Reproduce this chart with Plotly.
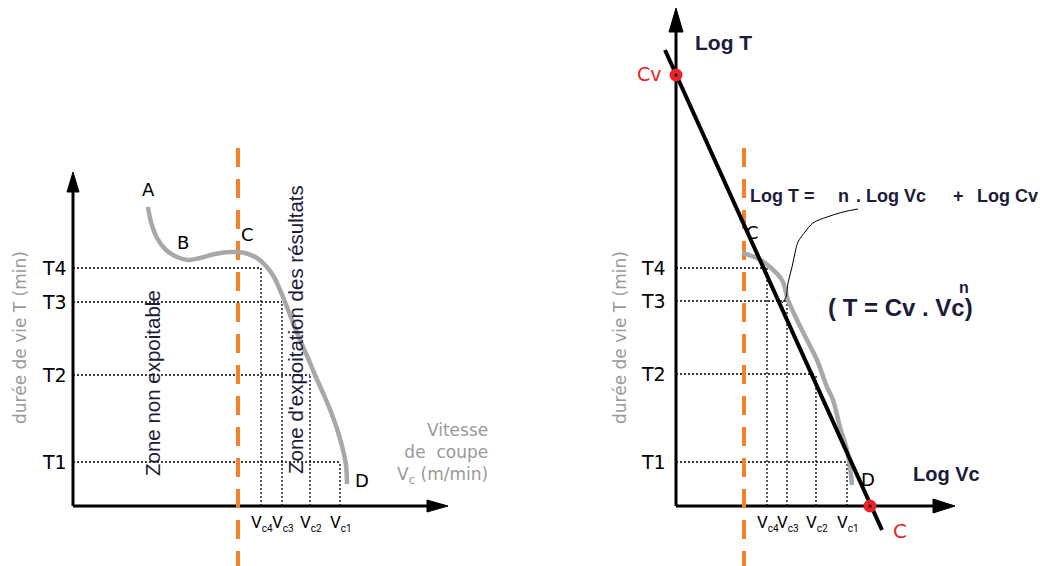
import plotly.graph_objects as go

# ---------------- data (panel units; origin = axis corner) ----------------
T_LABELS = ["T1", "T2", "T3", "T4"]
VC_SUBS = ["c1", "c2", "c3", "c4"]

# left panel : T = f(Vc)
left_T = [44, 131, 204, 238]
left_Vc = [267, 237, 209, 188]
left_curve_x = [75, 78, 84, 93, 104, 115, 127, 142, 157, 172, 184, 193, 201, 207,
                212, 219, 227, 235, 242, 250, 258, 265, 270, 273, 274]
left_curve_y = [299, 284, 268, 256, 249, 246, 248, 252, 254, 253, 248, 240, 229, 216,
                204, 186, 166, 148, 131, 113, 94, 74, 56, 41, 22]
left_zone_limit = 165

# right panel : Log T = f(Log Vc)
right_T = [44, 132, 205, 238]
right_Vc = [171, 140, 111, 91]
right_curve_x = [66, 81, 94, 106, 112, 121, 131, 141, 151, 157, 164, 171, 174, 176]
right_curve_y = [253, 248, 239, 226, 206, 186, 166, 146, 119, 106, 79, 56, 39, 21]
right_zone_limit = 68
taylor_x = [-11, 206]
taylor_y = [456, -24]
Cv_point = [0, 431]
C_point = [194, 0]
leader_x = [182, 167, 151, 137, 129, 122, 119, 116, 112, 110, 106]
leader_y = [297, 294, 289, 283, 274, 264, 253, 239, 223, 209, 203]

# ---------------- page geometry ----------------
PAGE_W, PAGE_H = 1049, 566
BODY = 8                     # default body margin of the html page
FIG_W, FIG_H = PAGE_W - BODY, PAGE_H - BODY
SPLIT = 524.5 - BODY         # x pixel where the two panels meet (figure px)
L_ORIGIN = (73 - BODY, 506 - BODY)
R_ORIGIN = (676 - BODY, 506 - BODY)

# ---------------- styles ----------------
SANS = "DejaVu Sans, sans-serif"
NARROW = "Roboto, DejaVu Sans, sans-serif"
ARIAL = "Liberation Sans, Arial, sans-serif"
ORANGE = "#F5822A"
GRAY = "#A8A8A8"
NAVY = "#1b1b3a"
RED = "#E8232A"
LABEL_GRAY = "#9a9a9a"

fig = go.Figure()
annotations = []
shapes = []


def ax(panel):
    return ("x", "y") if panel == 0 else ("x2", "y2")


def line(panel, xs, ys, color="black", width=1, dash="solid", shape="linear"):
    xa, ya = ax(panel)
    fig.add_trace(go.Scatter(x=xs, y=ys, mode="lines", xaxis=xa, yaxis=ya,
                             line=dict(color=color, width=width, dash=dash, shape=shape),
                             hoverinfo="skip", showlegend=False))


def ann(panel, x, y, text, size=16, color="black", family=SANS, xanchor="center",
        yanchor="middle", angle=0, align="center"):
    xa, ya = ax(panel)
    annotations.append(dict(x=x, y=y, xref=xa, yref=ya, text=text, showarrow=False,
                            xanchor=xanchor, yanchor=yanchor, textangle=angle, align=align,
                            borderpad=0,
                            font=dict(size=size, color=color, family=family)))


def tri(panel, pts):
    xa, ya = ax(panel)
    path = "M {} {} L {} {} L {} {} Z".format(*[v for p in pts for v in p])
    shapes.append(dict(type="path", path=path, xref=xa, yref=ya,
                       fillcolor="black", line=dict(color="black", width=1)))


def panel_frame(panel, ytop, ytip, xend, xtip, hw):
    line(panel, [0, 0], [0, ytop], width=3)
    line(panel, [0, xend], [0, 0], width=3)
    tri(panel, [(-hw, ytop), (hw, ytop), (0, ytip)])
    tri(panel, [(xend, -hw), (xend, hw), (xtip, 0)])


def grid(panel, T, Vc):
    for t, v in zip(T, Vc):
        line(panel, [0, v], [t, t], width=1.3, dash="2px,2px")
        line(panel, [v, v], [0, t], width=1.3, dash="2px,2px")


def vc_label(sub):
    return 'V<sub><span style="font-size:10px">%s</span></sub>' % sub


# ---------------- left panel ----------------
grid(0, left_T, left_Vc)
panel_frame(0, 314, 334, 354, 375, 6)
line(0, [left_zone_limit, left_zone_limit], [358, -60], color=ORANGE, width=4, dash="19px,12px")
line(0, left_curve_x, left_curve_y, color=GRAY, width=4.5, shape="spline")

for lab, t in zip(T_LABELS, left_T):
    ann(0, -5, t, lab, size=19, xanchor="right")
for sub, v in zip(VC_SUBS, left_Vc):
    ann(0, v + 1, -17, vc_label(sub), size=17, family=NARROW)
ann(0, 75, 317, "A", size=18)
ann(0, 110, 264, "B", size=18)
ann(0, 174, 272, "C", size=18)
ann(0, 289, 26, "D", size=18)
ann(0, -53, 168, "durée de vie T (min)", size=17, color=LABEL_GRAY, angle=-90)
ann(0, 416, 53, "Vitesse<br>de  coupe<br>V<sub>c</sub> (m/min)", size=17,
    color=LABEL_GRAY, xanchor="right", align="right")
ann(0, 79, 123, "Zone non expoitable", size=20.5, color=NAVY, family=ARIAL, angle=-90)
ann(0, 222, 176, "Zone d'expoitation des résultats", size=20.5, color=NAVY,
    family=ARIAL, angle=-90)

# ---------------- right panel ----------------
grid(1, right_T, right_Vc)
panel_frame(1, 474, 498, 257, 279, 7)
line(1, [right_zone_limit, right_zone_limit], [358, -60], color=ORANGE, width=4, dash="19px,12px")
line(1, right_curve_x, right_curve_y, color=GRAY, width=4.5, shape="spline")
line(1, taylor_x, taylor_y, color="black", width=4)
line(1, leader_x, leader_y, color="black", width=1, shape="spline")
fig.add_trace(go.Scatter(x=[Cv_point[0], C_point[0]], y=[Cv_point[1], C_point[1]],
                         mode="markers", xaxis="x2", yaxis="y2", hoverinfo="skip",
                         marker=dict(size=13, color=RED, line=dict(width=0)), showlegend=False))
fig.add_trace(go.Scatter(x=[Cv_point[0], C_point[0]], y=[Cv_point[1], C_point[1]],
                         mode="markers", xaxis="x2", yaxis="y2", hoverinfo="skip",
                         marker=dict(size=3, color="black"), showlegend=False))

for lab, t in zip(T_LABELS, right_T):
    ann(1, -9, t, lab, size=19, xanchor="right")
for sub, v in zip(VC_SUBS, right_Vc):
    ann(1, v + 1, -17, vc_label(sub), size=17, family=NARROW)
ann(1, 76, 274, "C", size=18)
ann(1, 192, 27, "D", size=18)
ann(1, -13, 432, "Cv", size=19, color=RED, xanchor="right")
ann(1, 224, -25, "C", size=20, color=RED)
ann(1, -56, 168, "durée de vie T (min)", size=17, color=LABEL_GRAY, angle=-90)
ann(1, 18, 464, "<b>Log T</b>", size=21, color=NAVY, family=ARIAL, xanchor="left")
ann(1, 236, 32, "<b>Log Vc</b>", size=20, color=NAVY, family=ARIAL, xanchor="left")
# equation pieces
ann(1, 73, 310, "<b>Log T =</b>", size=18, color=NAVY, family=ARIAL, xanchor="left")
ann(1, 167, 310, "<b>n</b>", size=18, color=NAVY, family=ARIAL)
ann(1, 179, 310, "<b>. Log Vc</b>", size=18, color=NAVY, family=ARIAL, xanchor="left")
ann(1, 282, 310, "<b>+</b>", size=18, color=NAVY, family=ARIAL)
ann(1, 300, 310, "<b>Log Cv</b>", size=18, color=NAVY, family=ARIAL, xanchor="left")
ann(1, 151, 199, "<b>( T = Cv . Vc)</b>", size=24, color=NAVY, family=ARIAL, xanchor="left")
ann(1, 288, 219, "<b>n</b>", size=16, color=NAVY, family=ARIAL)

fig.update_layout(
    width=FIG_W, height=FIG_H, autosize=False,
    margin=dict(l=0, r=0, t=0, b=0, pad=0),
    paper_bgcolor="white", plot_bgcolor="white", showlegend=False,
    xaxis=dict(domain=[0, SPLIT / FIG_W], range=[-L_ORIGIN[0], SPLIT - L_ORIGIN[0]],
               visible=False, fixedrange=True),
    yaxis=dict(domain=[0, 1], range=[L_ORIGIN[1] - FIG_H, L_ORIGIN[1]],
               visible=False, fixedrange=True),
    xaxis2=dict(domain=[SPLIT / FIG_W, 1], range=[SPLIT - R_ORIGIN[0], FIG_W - R_ORIGIN[0]],
                visible=False, fixedrange=True, anchor="y2"),
    yaxis2=dict(domain=[0, 1], range=[R_ORIGIN[1] - FIG_H, R_ORIGIN[1]],
                visible=False, fixedrange=True, anchor="x2"),
    annotations=annotations, shapes=shapes,
)

fig.write_html("out.html")
